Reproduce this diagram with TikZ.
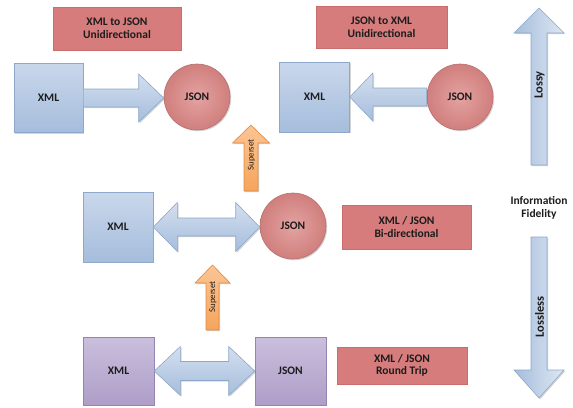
\documentclass[tikz,border=0pt]{standalone}
\usepackage{fontspec}
\setmainfont{Carlito}
\usetikzlibrary{calc,shadows}
\definecolor{bluetop}{HTML}{C9D7EB}
\definecolor{bluebot}{HTML}{A5BDDC}
\definecolor{blueline}{HTML}{8DA8CA}
\definecolor{redin}{HTML}{E3A3A1}
\definecolor{redout}{HTML}{D07F7D}
\definecolor{redline}{HTML}{B9706E}
\definecolor{labfill}{HTML}{D67C7C}
\definecolor{labline}{HTML}{C96C6C}
\definecolor{purtop}{HTML}{CABFDC}
\definecolor{purbot}{HTML}{AE9DC8}
\definecolor{purline}{HTML}{9683B4}
\definecolor{orgtop}{HTML}{FBC594}
\definecolor{orgbot}{HTML}{F6A45C}
\definecolor{orgline}{HTML}{DE8B45}
\definecolor{txt}{HTML}{1C1C1C}
\tikzset{
  shad/.style={drop shadow={shadow xshift=1.2pt,shadow yshift=-1.2pt,opacity=0.28,fill=black!60}},
  lbl/.style={font=\fontsize{11.5}{12.7}\selectfont\bfseries,text=txt,align=center},
  xmlbox/.style={lbl,draw=blueline,line width=0.6pt,top color=bluetop,bottom color=bluebot,shad,inner sep=0pt},
  jsoncirc/.style={lbl,circle,draw=redline,line width=0.6pt,inner color=redin,outer color=redout,shad,inner sep=0pt,minimum size=66pt},
  purbox/.style={lbl,draw=purline,line width=0.6pt,top color=purtop,bottom color=purbot,shad,inner sep=0pt},
  labbox/.style={lbl,draw=labline,line width=0.4pt,fill=labfill,inner sep=0pt},
  blockarrow/.style={draw=blueline,line width=0.6pt,top color=bluetop!80!white,bottom color=bluebot,shad},
  vblock/.style={draw=blueline,line width=0.6pt,left color=bluebot,right color=bluetop!60!white,shad},
  orgblock/.style={draw=orgline,line width=0.6pt,top color=orgtop,bottom color=orgbot,shad},
  rottext/.style={rotate=90,text=txt,inner sep=0pt}
}
% horizontal block arrow: tail #1, tip #2, shaft half #3, head half #4, signed head length #5
\newcommand\hblockarrow[6]{%
  \path[#6] let \p1=(#1), \p2=(#2) in
    (\x1,{\y1+#3}) -- ({\x2-(#5)},{\y1+#3}) -- ({\x2-(#5)},{\y1+#4}) -- (\x2,\y1)
    -- ({\x2-(#5)},{\y1-#4}) -- ({\x2-(#5)},{\y1-#3}) -- (\x1,{\y1-#3}) -- cycle;}
% horizontal double block arrow between #1 and #2 (left to right)
\newcommand\hdoublearrow[6]{%
  \path[#6] let \p1=(#1), \p2=(#2) in
    (\x1,\y1) -- ({\x1+#5},{\y1+#4}) -- ({\x1+#5},{\y1+#3}) -- ({\x2-#5},{\y1+#3}) -- ({\x2-#5},{\y1+#4})
    -- (\x2,\y1) -- ({\x2-#5},{\y1-#4}) -- ({\x2-#5},{\y1-#3}) -- ({\x1+#5},{\y1-#3}) -- ({\x1+#5},{\y1-#4}) -- cycle;}
% vertical block arrow: tail #1, tip #2, shaft half #3, head half #4, signed head length (canvas) #5
\newcommand\vblockarrow[6]{%
  \path[#6] let \p1=(#1), \p2=(#2) in
    ({\x2-#3},\y1) -- ({\x2-#3},{\y2-(#5)}) -- ({\x2-#4},{\y2-(#5)}) -- (\x2,\y2)
    -- ({\x2+#4},{\y2-(#5)}) -- ({\x2+#3},{\y2-(#5)}) -- ({\x2+#3},\y1) -- cycle;}
\begin{document}
\begin{tikzpicture}[x=1pt,y=-1pt]
\useasboundingbox (0,0) rectangle (573,407);
\fill[white] (0,0) rectangle (573,407);

% labels
\node[labbox,minimum width=128pt,minimum height=43pt] (lab1) at (117,28.5) {XML to JSON\\Unidirectional};
\node[labbox,minimum width=131pt,minimum height=42pt] (lab2) at (381.5,27) {JSON to XML\\Unidirectional};
\node[labbox,minimum width=129pt,minimum height=44pt] (lab3) at (406.5,227) {XML / JSON\\Bi-directional};
\node[labbox,minimum width=130pt,minimum height=37pt] (lab4) at (402,365.5) {XML / JSON\\Round Trip};

% row 1
\node[xmlbox,minimum width=69pt,minimum height=69pt] (x1) at (48.5,98) {XML};
\node[jsoncirc] (j1) at (197,97) {JSON};
\node[xmlbox,minimum width=70pt,minimum height=70pt] (x2) at (314.5,97) {XML};
\node[jsoncirc] (j2) at (460,97) {JSON};
\hblockarrow{x1.east}{j1.west}{9pt}{24pt}{25pt}{blockarrow}
\hblockarrow{j2.west}{x2.east}{9pt}{24pt}{-23pt}{blockarrow}

% row 2
\node[xmlbox,minimum width=70pt,minimum height=70pt] (x3) at (118,227) {XML};
\node[jsoncirc] (j3) at (293,226) {JSON};
\hdoublearrow{x3.east}{j3.west}{9pt}{24.5pt}{24pt}{blockarrow}

% row 3
\node[purbox,minimum width=71pt,minimum height=68pt] (x4) at (118.5,371) {XML};
\node[purbox,minimum width=71pt,minimum height=68pt] (j4) at (290.5,371) {JSON};
\hdoublearrow{x4.east}{j4.west}{9.5pt}{24.5pt}{26pt}{blockarrow}

% superset arrows
\coordinate (s1b) at (251,191);
\coordinate (s1t) at (251,125);
\vblockarrow{s1b}{s1t}{7pt}{18.5pt}{18pt}{orgblock}
\node[rottext,font=\fontsize{8.8}{9}\selectfont] (s1l) at (251.5,155) {Superset};
\coordinate (s2b) at (212.5,330);
\coordinate (s2t) at (212.5,265);
\vblockarrow{s2b}{s2t}{6.5pt}{17.5pt}{18pt}{orgblock}
\node[rottext,font=\fontsize{8.8}{9}\selectfont] (s2l) at (213,297) {Superset};

% fidelity arrows
\coordinate (lyb) at (539,165);
\coordinate (lyt) at (539,8);
\vblockarrow{lyb}{lyt}{8pt}{25pt}{25pt}{vblock}
\node[rottext,font=\fontsize{12.5}{13}\selectfont\bfseries] (lyl) at (539.5,85) {Lossy};
\coordinate (llb) at (539,237);
\coordinate (llt) at (539,398);
\vblockarrow{llb}{llt}{8pt}{25pt}{-28pt}{vblock}
\node[rottext,font=\fontsize{12.5}{13}\selectfont\bfseries] (lll) at (539.5,317) {Lossless};

\node[lbl] (info) at (539,208) {Information\\Fidelity};
\end{tikzpicture}
\end{document}
